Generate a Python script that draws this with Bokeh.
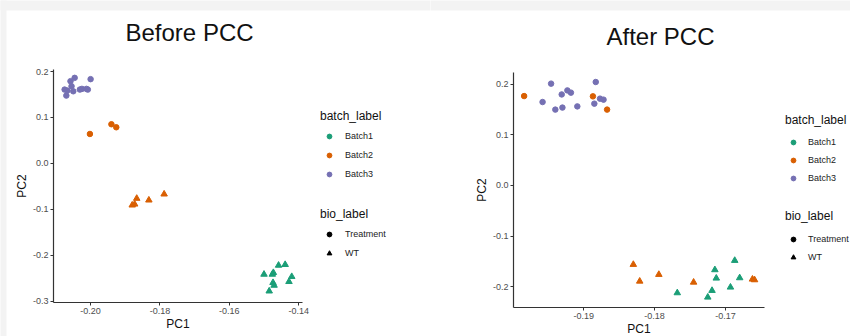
from bokeh.plotting import figure
from bokeh.layouts import row
from bokeh.models import (Range1d, FixedTicker, PrintfTickFormatter, Legend, LegendItem, Label,
                          BoxAnnotation)
from bokeh.embed import file_html
from bokeh.resources import INLINE

FONT = "Liberation Sans"
NAN = float("nan")
HEIGHT = 336
PAGE_GREY = "#f3f3f3"

BATCHES = ["Batch1", "Batch2", "Batch3"]
BATCH_COLORS = ["#1B9E77", "#D95F02", "#7570B3"]
BIOS = ["Treatment", "WT"]
BIO_MARKERS = ["circle", "triangle"]

# ---------------- Before PCC ----------------
before_pc1 = [-0.2075, -0.2070, -0.2067, -0.2058, -0.2046, -0.2055, -0.2050, -0.2031, -0.2025, -0.2012, -0.2008, -0.2000,
              -0.2002, -0.1940, -0.1926,
              -0.1880, -0.1873, -0.1867, -0.1832, -0.1788,
              -0.1500, -0.1476, -0.1473, -0.1458, -0.1439, -0.1420, -0.1428, -0.1474, -0.1471, -0.1485]
before_pc2 = [0.1607, 0.1476, 0.1585, 0.1790, 0.1862, 0.1680, 0.1570, 0.1607, 0.1622, 0.1622, 0.1607, 0.1834,
              0.0640, 0.0852, 0.0786,
              -0.0910, -0.0889, -0.0764, -0.0801, -0.0670,
              -0.2417, -0.2417, -0.2380, -0.2221, -0.2205, -0.2467, -0.2576, -0.2598, -0.2657, -0.2782]
before_batch = ["Batch3"] * 12 + ["Batch2"] * 3 + ["Batch2"] * 5 + ["Batch1"] * 10
before_bio = ["Treatment"] * 12 + ["Treatment"] * 3 + ["WT"] * 5 + ["WT"] * 10
before_xticks = [-0.20, -0.18, -0.16, -0.14]
before_yticks = [-0.3, -0.2, -0.1, 0.0, 0.1, 0.2]
before_xlim = (-0.2107, -0.1389)
before_ylim = (-0.303, 0.2044)

# ---------------- After PCC ----------------
after_pc1 = [-0.1946, -0.1958, -0.1940, -0.1931, -0.1930, -0.1923, -0.1918, -0.1909, -0.1883, -0.1885, -0.1877, -0.1872,
             -0.1984, -0.1887, -0.1867,
             -0.1830, -0.1821, -0.1794, -0.1745, -0.1662, -0.1659,
             -0.1768, -0.1725, -0.1719, -0.1715, -0.1713, -0.1687, -0.1693, -0.1680]
after_pc2 = [0.2014, 0.1650, 0.1500, 0.1800, 0.1540, 0.1880, 0.1836, 0.1564, 0.2046, 0.1618, 0.1717, 0.1697,
             0.1768, 0.1762, 0.1500,
             -0.1564, -0.1895, -0.1762, -0.1915, -0.1855, -0.1868,
             -0.2125, -0.2211, -0.2079, -0.1669, -0.1835, -0.1485, -0.2013, -0.1828]
after_batch = ["Batch3"] * 12 + ["Batch2"] * 3 + ["Batch2"] * 6 + ["Batch1"] * 8
after_bio = ["Treatment"] * 12 + ["Treatment"] * 3 + ["WT"] * 6 + ["WT"] * 8
after_xticks = [-0.19, -0.18, -0.17]
after_yticks = [-0.2, -0.1, 0.0, 0.1, 0.2]
after_xlim = (-0.1999, -0.1645)
after_ylim = (-0.242, 0.224)


def make_panel(title, pc1, pc2, batch, bio, xlim, ylim, xticks, yticks, cfg):
    W = cfg["width"]
    sx = (cfg["ax_right"] - cfg["ax_left"]) / (xlim[1] - xlim[0])
    sy = (cfg["ax_bottom"] - cfg["ax_top"]) / (ylim[1] - ylim[0])
    x0 = xlim[0] - cfg["ax_left"] / sx
    x1 = xlim[0] + (W - cfg["ax_left"]) / sx
    y1 = ylim[1] + cfg["ax_top"] / sy
    y0 = ylim[0] - (HEIGHT - cfg["ax_bottom"]) / sy

    p = figure(width=W, height=HEIGHT, output_backend="svg", toolbar_location=None,
               x_range=Range1d(x0, x1), y_range=Range1d(y0, y1),
               min_border_left=0, min_border_right=0, min_border_top=0, min_border_bottom=0)
    p.outline_line_color = None
    p.grid.visible = False
    p.background_fill_color = "white"
    p.border_fill_color = "white"

    # light grey page strips (top, and left for the first panel)
    pad_x, pad_y = 6 / sx, 6 / sy
    p.add_layout(BoxAnnotation(left=x0 - pad_x, right=x1 + pad_x, bottom=y1 - 10 / sy, top=y1 + pad_y,
                               fill_color=PAGE_GREY, fill_alpha=1, line_color=None, line_alpha=0,
                               level="underlay"))
    if cfg["left_strip"]:
        p.add_layout(BoxAnnotation(left=x0 - pad_x, right=x0 + 6 / sx, bottom=y0 - pad_y, top=y1 + pad_y,
                                   fill_color=PAGE_GREY, fill_alpha=1, line_color=None, line_alpha=0,
                                   level="underlay"))

    p.xaxis.ticker = FixedTicker(ticks=xticks)
    p.yaxis.ticker = FixedTicker(ticks=yticks)
    p.xaxis.formatter = PrintfTickFormatter(format="%.2f")
    p.yaxis.formatter = PrintfTickFormatter(format="%.1f")
    p.xaxis.bounds = xlim
    p.yaxis.bounds = ylim
    p.xaxis.fixed_location = ylim[0]
    p.yaxis.fixed_location = xlim[0]
    p.xaxis.axis_label = "PC1"
    p.yaxis.axis_label = "PC2"
    for ax in (p.xaxis[0], p.yaxis[0]):
        ax.axis_line_color = "#333333"
        ax.axis_line_width = 1.2
        ax.major_tick_line_color = "#333333"
        ax.major_tick_line_width = 1
        ax.major_tick_out = 3
        ax.major_tick_in = 0
        ax.minor_tick_line_color = None
        ax.major_label_text_font = FONT
        ax.major_label_text_font_size = "9px"
        ax.major_label_text_color = "#4d4d4d"
        ax.major_label_standoff = 2
        ax.axis_label_text_font = FONT
        ax.axis_label_text_font_size = "12px"
        ax.axis_label_text_font_style = "normal"
        ax.axis_label_text_color = "#111111"
    p.xaxis.axis_label_standoff = cfg["xlab_stand"]
    p.yaxis.axis_label_standoff = cfg["ylab_stand"]

    # title as a text annotation placed in the (full-figure) plot area
    p.add_layout(Label(x=x0 + cfg["title_x"] / sx, y=y1 - cfg["title_mid"] / sy, text=title,
                       text_font=FONT, text_font_size="24px", text_color="#111111",
                       text_align="left", text_baseline="middle"))

    for bname, col in zip(BATCHES, BATCH_COLORS):
        for bioname, mk in zip(BIOS, BIO_MARKERS):
            idx = [i for i in range(len(pc1)) if batch[i] == bname and bio[i] == bioname]
            if not idx:
                continue
            p.scatter(x=[pc1[i] for i in idx], y=[pc2[i] for i in idx], marker=mk,
                      size=5.5 if mk == "circle" else 6.5, color=col)

    # legend-only swatches (no visible data)
    batch_items = []
    for bname, col in zip(BATCHES, BATCH_COLORS):
        r = p.scatter(x=[NAN], y=[NAN], marker="circle", size=5, color=col)
        batch_items.append(LegendItem(label=bname, renderers=[r]))
    bio_items = []
    for bioname, mk in zip(BIOS, BIO_MARKERS):
        r = p.scatter(x=[NAN], y=[NAN], marker=mk, size=5, color="black")
        bio_items.append(LegendItem(label=bioname, renderers=[r]))

    for items, ttl, vy, tst in ((batch_items, "batch_label", cfg["vy1"], cfg["tst1"]),
                                (bio_items, "bio_label", cfg["vy2"], cfg["tst2"])):
        leg = Legend(items=items, title=ttl, location=(cfg["vx"], vy),
                     padding=0, margin=0, spacing=cfg["spacing"],
                     glyph_width=cfg["gw"], glyph_height=12, label_height=16,
                     label_standoff=7, title_standoff=tst,
                     label_text_font=FONT, label_text_font_size="9px", label_text_color="#222222",
                     title_text_font=FONT, title_text_font_size="12px",
                     title_text_font_style="normal", title_text_color="#111111",
                     border_line_color=None, background_fill_alpha=0)
        p.add_layout(leg)
    return p


left_cfg = dict(width=430, ax_left=53, ax_right=302, ax_top=69, ax_bottom=302,
                title_x=125, title_mid=32, xlab_stand=0, ylab_stand=1, left_strip=True,
                vx=320, vy1=154, vy2=75, tst1=5, tst2=5, spacing=3, gw=18)
right_cfg = dict(width=420, ax_left=83, ax_right=334, ax_top=71.7, ax_bottom=307.3,
                 title_x=176, title_mid=36, xlab_stand=0, ylab_stand=1, left_strip=False,
                 vx=355, vy1=150, vy2=71, tst1=7, tst2=8, spacing=2, gw=16)

p1 = make_panel("Before PCC", before_pc1, before_pc2, before_batch, before_bio,
                before_xlim, before_ylim, before_xticks, before_yticks, left_cfg)
p2 = make_panel("After PCC", after_pc1, after_pc2, after_batch, after_bio,
                after_xlim, after_ylim, after_xticks, after_yticks, right_cfg)

layout = row(p1, p2, spacing=0)
open("out.html", "w").write(file_html(layout, INLINE))
